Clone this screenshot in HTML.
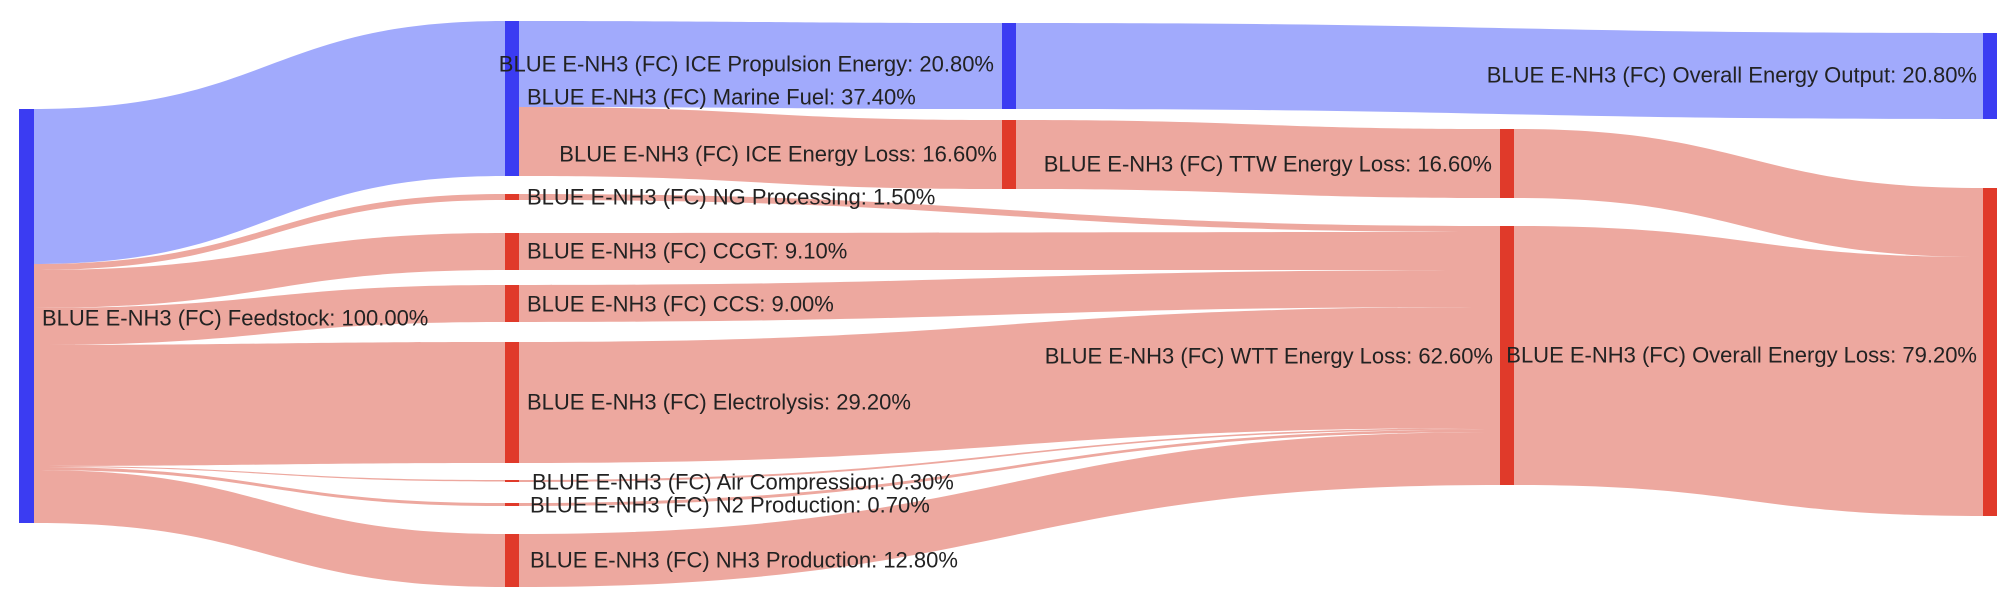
<!DOCTYPE html>
<html><head><meta charset="utf-8"><style>
html,body{margin:0;padding:0;background:#fff;}
svg{display:block;}
text{font-family:"Liberation Sans",Arial,sans-serif;font-size:22px;fill:#222;dominant-baseline:central;}
</style></head><body>
<svg id="s" width="2016" height="606" viewBox="0 0 2016 606" xmlns="http://www.w3.org/2000/svg">
<g id="links"></g>
<g id="nodes"></g>
<g>
<text x="42" y="318">BLUE E-NH3 (FC) Feedstock: 100.00%</text>
<text x="994" y="64" text-anchor="end">BLUE E-NH3 (FC) ICE Propulsion Energy: 20.80%</text>
<text x="527" y="97">BLUE E-NH3 (FC) Marine Fuel: 37.40%</text>
<text x="997" y="154" text-anchor="end">BLUE E-NH3 (FC) ICE Energy Loss: 16.60%</text>
<text x="527" y="197">BLUE E-NH3 (FC) NG Processing: 1.50%</text>
<text x="527" y="251">BLUE E-NH3 (FC) CCGT: 9.10%</text>
<text x="527" y="304">BLUE E-NH3 (FC) CCS: 9.00%</text>
<text x="527" y="402">BLUE E-NH3 (FC) Electrolysis: 29.20%</text>
<text x="532" y="482">BLUE E-NH3 (FC) Air Compression: 0.30%</text>
<text x="530" y="505">BLUE E-NH3 (FC) N2 Production: 0.70%</text>
<text x="530" y="560">BLUE E-NH3 (FC) NH3 Production: 12.80%</text>
<text x="1492" y="164" text-anchor="end">BLUE E-NH3 (FC) TTW Energy Loss: 16.60%</text>
<text x="1493" y="356" text-anchor="end">BLUE E-NH3 (FC) WTT Energy Loss: 62.60%</text>
<text x="1977" y="75" text-anchor="end">BLUE E-NH3 (FC) Overall Energy Output: 20.80%</text>
<text x="1977" y="355" text-anchor="end">BLUE E-NH3 (FC) Overall Energy Loss: 79.20%</text>
</g>
</svg>
<script>
var B='#3b3cf2',R='#e03a2a',BL='rgba(110,125,250,0.65)',PL='rgba(225,110,95,0.6)';
var C1=[19,34],C2=[505,519],C3=[1002,1016],C4=[1500,1514],C5=[1983,1997];
var nodes=[[C1,109,523,B],[C2,21,176,B],[C2,194,200,R],[C2,233,270,R],[C2,285,322,R],[C2,342,463,R],[C2,480,482,R],[C2,503,506,R],[C2,534,587,R],
[C3,23,109,B],[C3,120,189,R],[C4,129,198,R],[C4,226,485,R],[C5,33,119,B],[C5,188,516,R]];
var links=[
[C1,109,264,C2,21,176,BL],
[C1,264,270,C2,194,200,PL],[C1,270,308,C2,233,270,PL],[C1,308,345,C2,285,322,PL],[C1,345,466,C2,342,463,PL],
[C1,466,467,C2,480,481.5,PL],[C1,467,470,C2,503,506,PL],[C1,470,523,C2,534,587,PL],
[C2,21,107,C3,23,109,BL],[C2,107,176,C3,120,189,PL],
[C3,23,109,C5,33,119,BL],[C3,120,189,C4,129,198,PL],
[C2,194,200,C4,226,232,PL],[C2,233,270,C4,232,270,PL],[C2,285,322,C4,270,307,PL],[C2,342,463,C4,307,428,PL],
[C2,480,482,C4,428,429.5,PL],[C2,503,506,C4,429.5,432,PL],[C2,534,587,C4,432,485,PL],
[C4,129,198,C5,188,257,PL],[C4,226,485,C5,257,516,PL]];
var NS='http://www.w3.org/2000/svg',lg=document.getElementById('links'),ng=document.getElementById('nodes');
links.forEach(function(l){
 var x0=l[0][1],x1=l[3][0],m=(x0+x1)/2,p=document.createElementNS(NS,'path');
 var d='M'+x0+','+l[1]+'C'+m+','+l[1]+' '+m+','+l[4]+' '+x1+','+l[4]+'L'+x1+','+l[5]+'C'+m+','+l[5]+' '+m+','+l[2]+' '+x0+','+l[2]+'Z';
 p.setAttribute('d',d);p.setAttribute('fill',l[6]);lg.appendChild(p);});
nodes.forEach(function(n){
 var r=document.createElementNS(NS,'rect');r.setAttribute('x',n[0][0]);r.setAttribute('width',n[0][1]-n[0][0]);
 r.setAttribute('y',n[1]);r.setAttribute('height',Math.max(n[2]-n[1],1.5));r.setAttribute('fill',n[3]);ng.appendChild(r);});
</script>
</body></html>
